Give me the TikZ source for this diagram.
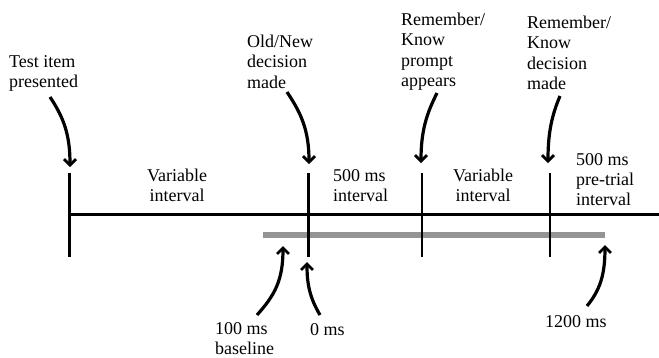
\documentclass[tikz,border=0pt]{standalone}
\usepackage{fontspec}
\setmainfont{Liberation Serif}
\usetikzlibrary{arrows.meta}
\begin{document}
\begin{tikzpicture}[x=1pt,y=-1pt,
  lbl/.style={anchor=north west,inner sep=0pt,align=left,font=\fontsize{18}{20.3}\selectfont},
  clbl/.style={anchor=north,inner sep=0pt,align=center,font=\fontsize{18}{20.3}\selectfont},
  tick/.style={line width=2.6pt},
  axis/.style={line width=2.6pt},
  bar/.style={line width=6pt,draw=black!42},
  curvearrow/.style={line width=3.2pt,-{Straight Barb[length=6pt,width=12pt,line width=2.8pt]}}]
\useasboundingbox (0,0) rectangle (659,357);
% ticks
\coordinate (t1a) at (69.5,173); \coordinate (t1b) at (69.5,257);
\coordinate (t2a) at (308.5,173); \coordinate (t2b) at (308.5,257);
\coordinate (t3a) at (422,173); \coordinate (t3b) at (422,257);
\coordinate (t4a) at (550,173); \coordinate (t4b) at (550,257);
\coordinate (axL) at (69.5,214.5); \coordinate (axR) at (659,214.5);
\coordinate (barL) at (263,235); \coordinate (barR) at (605,235);
\draw[bar] (barL) -- (barR);
\draw[axis] (axL) -- (axR);
\draw[tick] (t1a) -- (t1b);
\draw[tick] (t2a) -- (t2b);
\draw[tick] (t3a) -- (t3b);
\draw[tick] (t4a) -- (t4b);
% labels
\node[lbl] (test) at (9,55) {Test item\\presented};
\node[lbl] (oldnew) at (247,35) {Old/New\\decision\\made};
\node[lbl] (prompt) at (401,13) {Remember/\\Know\\prompt\\appears};
\node[lbl] (rkdec) at (527,16) {Remember/\\Know\\decision\\made};
\node[clbl] (var1) at (177,169) {Variable\\interval};
\node[lbl] (i500) at (333,169) {500 ms\\interval};
\node[clbl] (var2) at (483,169) {Variable\\interval};
\node[lbl] (pretrial) at (576,153) {500 ms\\pre-trial\\interval};
\node[lbl] (base) at (215,322) {100 ms\\baseline};
\node[lbl] (zero) at (310,323) {0 ms};
\node[lbl] (t1200) at (545,315) {1200 ms};
% arrows
\coordinate (a1s) at (50,97); \coordinate (a1e) at (70,167);
\coordinate (a2s) at (287,92); \coordinate (a2e) at (309,164);
\coordinate (a3s) at (437,93); \coordinate (a3e) at (421,163);
\coordinate (a4s) at (560,96); \coordinate (a4e) at (548,163);
\coordinate (b1s) at (257,315); \coordinate (b1e) at (283,246);
\coordinate (b2s) at (320,315); \coordinate (b2e) at (307,262);
\coordinate (b3s) at (587,306); \coordinate (b3e) at (605,245);
\draw[curvearrow] (a1s) .. controls (64,118) and (70,135) .. (a1e);
\draw[curvearrow] (a2s) .. controls (301,113) and (309,130) .. (a2e);
\draw[curvearrow] (a3s) .. controls (427,113) and (421,130) .. (a3e);
\draw[curvearrow] (a4s) .. controls (552,115) and (548,132) .. (a4e);
\draw[curvearrow] (b1s) .. controls (275,295) and (283,280) .. (b1e);
\draw[curvearrow] (b2s) .. controls (310,298) and (307,285) .. (b2e);
\draw[curvearrow] (b3s) .. controls (600,290) and (605,275) .. (b3e);
\end{tikzpicture}
\end{document}
